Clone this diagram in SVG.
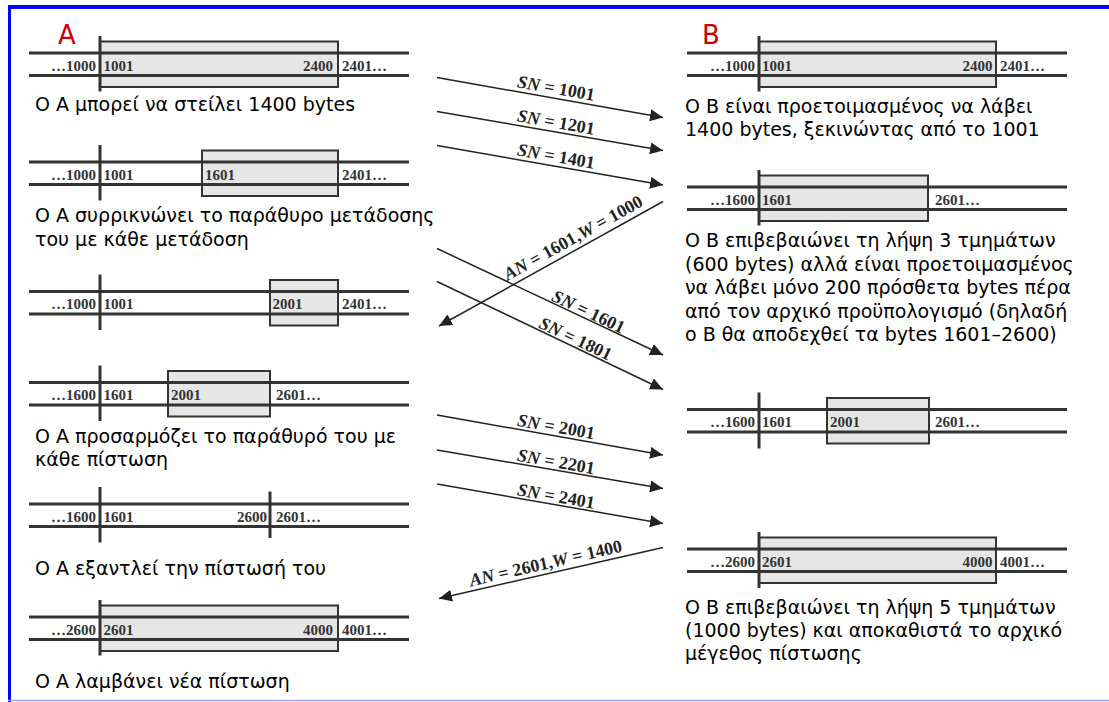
<svg xmlns="http://www.w3.org/2000/svg" width="1109" height="702" viewBox="0 0 1109 702">
<defs>
<marker id="ah" markerUnits="userSpaceOnUse" markerWidth="14" markerHeight="12" refX="13" refY="6" orient="auto">
<path d="M0,0 L13,6 L0,12 z" fill="#222"/>
</marker>
<style>
.ln{stroke:#333;stroke-width:3}
.win{fill:#e6e6e6;stroke:#333;stroke-width:2}
.num{font-family:"Liberation Serif",serif;font-weight:bold;font-size:15px;fill:#333}
.end{text-anchor:end}
.cap{font-family:"DejaVu Sans",sans-serif;font-size:19px;fill:#000}
.arr{stroke:#222;stroke-width:1.5;fill:none;marker-end:url(#ah)}
.lbl{font-family:"Liberation Serif",serif;font-weight:bold;font-size:18px;fill:#222}
.it{font-style:italic}
.hd{font-family:"DejaVu Sans",sans-serif;font-size:26px;fill:#cc0000}
</style>
</defs>
<rect x="0" y="0" width="1109" height="702" fill="#fff"/>
<line x1="8" y1="7" x2="1109" y2="7" stroke="#0000ff" stroke-width="4"/>
<line x1="9.5" y1="5" x2="9.5" y2="702" stroke="#0000ff" stroke-width="3"/>
<line x1="8" y1="700.5" x2="1109" y2="700.5" stroke="#a0a0ff" stroke-width="1.5"/>

<text id="labelA" class="hd" x="58" y="44">A</text>
<text id="labelB" class="hd" x="702" y="44">B</text>

<g id="a1">
<rect class="win" x="100" y="41.5" width="238" height="45.5"/>
<line class="ln" x1="29" y1="53" x2="409" y2="53"/><line class="ln" x1="29" y1="75.5" x2="409" y2="75.5"/>
<line class="ln" x1="100" y1="36" x2="100" y2="91.5"/>
<text class="num end" x="96" y="70.5">…1000</text><text class="num" x="103.5" y="70.5">1001</text>
<text class="num end" x="333" y="70.5">2400</text><text class="num" x="342" y="70.5">2401…</text>
<text class="cap" x="35" y="111">Ο Α μπορεί να στείλει 1400 bytes</text>
</g>

<g id="a2">
<rect class="win" x="202" y="150.5" width="136" height="45.5"/>
<line class="ln" x1="29" y1="162" x2="409" y2="162"/><line class="ln" x1="29" y1="184.5" x2="409" y2="184.5"/>
<line class="ln" x1="100" y1="145" x2="100" y2="200.5"/>
<text class="num end" x="96" y="179.5">…1000</text><text class="num" x="103.5" y="179.5">1001</text>
<text class="num" x="205" y="179.5">1601</text><text class="num" x="342" y="179.5">2401…</text>
<text class="cap" x="35" y="222">Ο Α συρρικνώνει το παράθυρο μετάδοσης</text>
<text class="cap" x="35" y="246">του με κάθε μετάδοση</text>
</g>

<g id="a3">
<rect class="win" x="270" y="280" width="68" height="45.5"/>
<line class="ln" x1="29" y1="291.5" x2="409" y2="291.5"/><line class="ln" x1="29" y1="314" x2="409" y2="314"/>
<line class="ln" x1="100" y1="274.5" x2="100" y2="330"/>
<text class="num end" x="96" y="309">…1000</text><text class="num" x="103.5" y="309">1001</text>
<text class="num" x="272.5" y="309">2001</text><text class="num" x="342" y="309">2401…</text>
</g>

<g id="a4">
<rect class="win" x="168" y="371" width="102" height="45.5"/>
<line class="ln" x1="29" y1="382.5" x2="409" y2="382.5"/><line class="ln" x1="29" y1="405" x2="409" y2="405"/>
<line class="ln" x1="100" y1="365.5" x2="100" y2="421"/>
<text class="num end" x="96" y="400">…1600</text><text class="num" x="103.5" y="400">1601</text>
<text class="num" x="171" y="400">2001</text><text class="num" x="276" y="400">2601…</text>
<text class="cap" x="35" y="443">Ο Α προσαρμόζει το παράθυρό του με</text>
<text class="cap" x="35" y="466">κάθε πίστωση</text>
</g>

<g id="a5">
<line class="ln" x1="29" y1="504" x2="409" y2="504"/><line class="ln" x1="29" y1="526.5" x2="409" y2="526.5"/>
<line class="ln" x1="100" y1="487" x2="100" y2="542.5"/>
<line class="ln" x1="270" y1="491.5" x2="270" y2="538"/>
<text class="num end" x="96" y="521.5">…1600</text><text class="num" x="103.5" y="521.5">1601</text>
<text class="num end" x="267" y="521.5">2600</text><text class="num" x="276" y="521.5">2601…</text>
<text class="cap" x="35" y="575">Ο Α εξαντλεί την πίστωσή του</text>
</g>

<g id="a6">
<rect class="win" x="100" y="605.5" width="238" height="45.5"/>
<line class="ln" x1="29" y1="617" x2="409" y2="617"/><line class="ln" x1="29" y1="639.5" x2="409" y2="639.5"/>
<line class="ln" x1="100" y1="600" x2="100" y2="655.5"/>
<text class="num end" x="96" y="634.5">…2600</text><text class="num" x="103.5" y="634.5">2601</text>
<text class="num end" x="333" y="634.5">4000</text><text class="num" x="342" y="634.5">4001…</text>
<text class="cap" x="35" y="688">Ο Α λαμβάνει νέα πίστωση</text>
</g>

<g id="b1">
<rect class="win" x="759" y="41.5" width="237" height="45.5"/>
<line class="ln" x1="687" y1="53" x2="1067" y2="53"/><line class="ln" x1="687" y1="75.5" x2="1067" y2="75.5"/>
<line class="ln" x1="759" y1="36" x2="759" y2="91.5"/>
<text class="num end" x="755" y="70.5">…1000</text><text class="num" x="762" y="70.5">1001</text>
<text class="num end" x="992.5" y="70.5">2400</text><text class="num" x="1000" y="70.5">2401…</text>
<text class="cap" x="685" y="113">Ο Β είναι προετοιμασμένος να λάβει</text>
<text class="cap" x="685" y="136">1400 bytes, ξεκινώντας από το 1001</text>
</g>

<g id="b2">
<rect class="win" x="759" y="175.5" width="169" height="45.5"/>
<line class="ln" x1="687" y1="187" x2="1067" y2="187"/><line class="ln" x1="687" y1="209.5" x2="1067" y2="209.5"/>
<line class="ln" x1="759" y1="170" x2="759" y2="225.5"/>
<text class="num end" x="755" y="204.5">…1600</text><text class="num" x="762" y="204.5">1601</text>
<text class="num" x="935" y="204.5">2601…</text>
<text class="cap" x="685" y="247">Ο Β επιβεβαιώνει τη λήψη 3 τμημάτων</text>
<text class="cap" x="685" y="270.5">(600 bytes) αλλά είναι προετοιμασμένος</text>
<text class="cap" x="685" y="294">να λάβει μόνο 200 πρόσθετα bytes πέρα</text>
<text class="cap" x="685" y="317.5">από τον αρχικό προϋπολογισμό (δηλαδή</text>
<text class="cap" x="685" y="341">ο Β θα αποδεχθεί τα bytes 1601–2600)</text>
</g>

<g id="b3">
<rect class="win" x="827" y="398" width="102" height="45.5"/>
<line class="ln" x1="687" y1="409.5" x2="1067" y2="409.5"/><line class="ln" x1="687" y1="432" x2="1067" y2="432"/>
<line class="ln" x1="759" y1="392.5" x2="759" y2="448.5"/>
<text class="num end" x="755" y="427">…1600</text><text class="num" x="762" y="427">1601</text>
<text class="num" x="830" y="427">2001</text><text class="num" x="935" y="427">2601…</text>
</g>

<g id="b4">
<rect class="win" x="759" y="537.5" width="237" height="45.5"/>
<line class="ln" x1="687" y1="549" x2="1067" y2="549"/><line class="ln" x1="687" y1="571.5" x2="1067" y2="571.5"/>
<line class="ln" x1="759" y1="532" x2="759" y2="588"/>
<text class="num end" x="755" y="566.5">…2600</text><text class="num" x="762" y="566.5">2601</text>
<text class="num end" x="992.5" y="566.5">4000</text><text class="num" x="1000" y="566.5">4001…</text>
<text class="cap" x="685" y="614">Ο Β επιβεβαιώνει τη λήψη 5 τμημάτων</text>
<text class="cap" x="685" y="637">(1000 bytes) και αποκαθιστά το αρχικό</text>
<text class="cap" x="685" y="660">μέγεθος πίστωσης</text>
</g>

<g id="connectors">
<line class="arr" x1="437" y1="77.5" x2="663" y2="117.5"/>
<line class="arr" x1="437" y1="111.5" x2="663" y2="150.5"/>
<line class="arr" x1="437" y1="145.5" x2="663" y2="185"/>
<line class="arr" x1="663" y1="201.5" x2="439" y2="326"/>
<line class="arr" x1="437" y1="248.5" x2="663" y2="355"/>
<line class="arr" x1="437" y1="281.5" x2="663" y2="389.5"/>
<line class="arr" x1="437" y1="415" x2="663" y2="455"/>
<line class="arr" x1="437" y1="450" x2="663" y2="488.5"/>
<line class="arr" x1="437" y1="484" x2="663" y2="523.5"/>
<line class="arr" x1="663" y1="547.5" x2="439" y2="598.5"/>
<text class="lbl" text-anchor="middle" transform="translate(555,94) rotate(10)"><tspan class="it">SN</tspan> = 1001</text>
<text class="lbl" text-anchor="middle" transform="translate(555,128) rotate(10)"><tspan class="it">SN</tspan> = 1201</text>
<text class="lbl" text-anchor="middle" transform="translate(555,162) rotate(10)"><tspan class="it">SN</tspan> = 1401</text>
<text class="lbl" text-anchor="middle" transform="translate(576,243) rotate(-29)"><tspan class="it">AN</tspan> = 1601,<tspan class="it">W</tspan> = 1000</text>
<text class="lbl" text-anchor="middle" transform="translate(586,317) rotate(25.3)"><tspan class="it">SN</tspan> = 1601</text>
<text class="lbl" text-anchor="middle" transform="translate(573,344) rotate(25.5)"><tspan class="it">SN</tspan> = 1801</text>
<text class="lbl" text-anchor="middle" transform="translate(555,432.5) rotate(10)"><tspan class="it">SN</tspan> = 2001</text>
<text class="lbl" text-anchor="middle" transform="translate(555,467.5) rotate(10)"><tspan class="it">SN</tspan> = 2201</text>
<text class="lbl" text-anchor="middle" transform="translate(555,502) rotate(10)"><tspan class="it">SN</tspan> = 2401</text>
<text class="lbl" text-anchor="middle" transform="translate(547,569) rotate(-13)"><tspan class="it">AN</tspan> = 2601,<tspan class="it">W</tspan> = 1400</text>
</g>
</svg>
